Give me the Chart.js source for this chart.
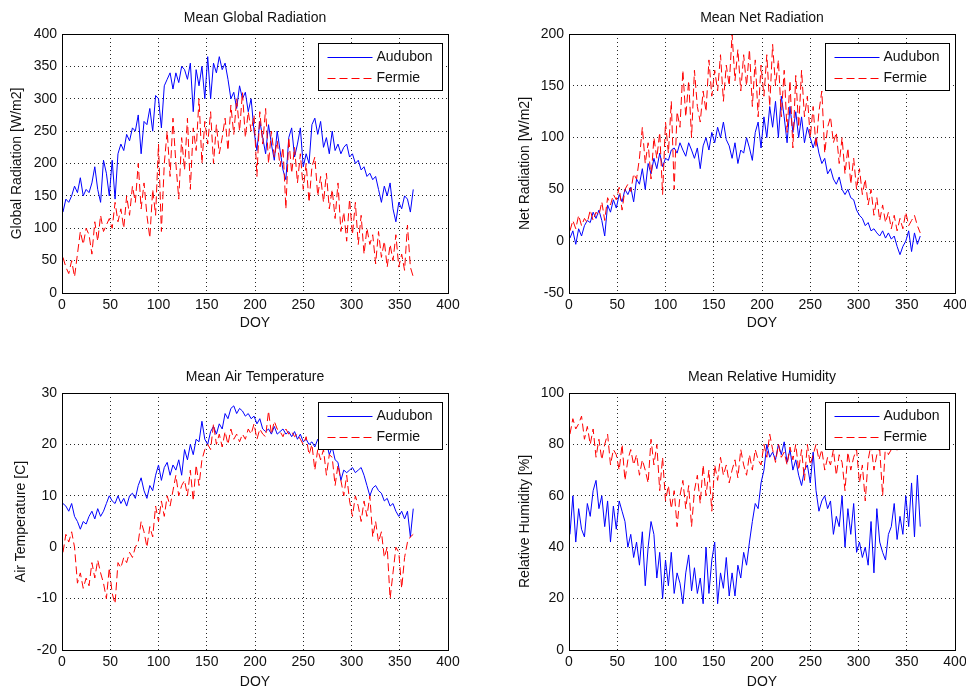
<!DOCTYPE html>
<html>
<head>
<meta charset="utf-8">
<script src="https://cdn.jsdelivr.net/npm/chart.js@4.4.1/dist/chart.umd.min.js"></script>
<style>
  html, body { margin: 0; padding: 0; background: #fff; overflow: hidden; }
  #wrap { position: relative; width: 966px; height: 688px; overflow: hidden; background: #fff; }
  #wrap canvas { position: absolute; }
</style>
</head>
<body>
<div id="wrap">
  <canvas id="c1" width="483" height="344" style="left:0;top:0"></canvas>
  <canvas id="c2" width="500" height="344" style="left:483px;top:0"></canvas>
  <canvas id="c3" width="483" height="360" style="left:0;top:344px"></canvas>
  <canvas id="c4" width="500" height="360" style="left:483px;top:344px"></canvas>
</div>
<script>
// day of year, sampled every third day
const DOY = [];
for (let d = 1; d <= 365; d += 3) DOY.push(d);

const xTicks = [0, 50, 100, 150, 200, 250, 300, 350, 400];
const globalTicks = [0, 50, 100, 150, 200, 250, 300, 350, 400];
const netTicks = [-50, 0, 50, 100, 150, 200];
const tempTicks = [-20, -10, 0, 10, 20, 30];
const humTicks = [0, 20, 40, 60, 80, 100];

const globalAudubon = [
  125, 145, 140, 150, 165, 155, 178, 150, 160, 155,
  170, 195, 160, 140, 205, 185, 150, 205, 145, 215,
  230, 220, 245, 235, 255, 250, 275, 215, 265, 260,
  285, 250, 305, 300, 255, 320, 330, 340, 315, 340,
  325, 350, 345, 330, 355, 280, 345, 320, 350, 300,
  365, 300, 355, 340, 365, 345, 355, 330, 300, 310,
  285, 320, 300, 310, 280, 300, 250, 220, 265, 240,
  215, 260, 230, 205, 250, 220, 190, 175, 240, 255,
  210, 230, 255, 195, 215, 200, 260, 270, 245, 265,
  225, 240, 215, 250, 220, 230, 215, 225, 230, 210,
  215, 200, 205, 190, 195, 180, 185, 175, 180, 160,
  140, 165, 150, 170, 130, 110, 140, 130, 150, 145,
  125, 160
];
const globalFermie = [
  55, 40, 30, 50, 25, 60, 95, 75, 100, 90,
  60, 110, 80, 120, 95, 105, 115, 100, 140, 110,
  130, 100, 150, 120, 165, 140, 200, 130, 170, 120,
  85, 160, 120, 230, 95, 200, 250, 180, 270, 200,
  145, 240, 190, 270, 160, 255, 220, 300, 200, 265,
  230, 280, 200, 260, 215, 240, 270, 220, 290, 245,
  300, 250, 310, 240, 280, 250, 275, 180, 280, 230,
  285, 200, 250, 210, 235, 195, 225, 130, 240, 185,
  225, 170, 215, 160, 200, 140, 195, 210, 150, 180,
  140, 185, 130, 160, 115, 170, 95, 125, 80, 145,
  90, 140, 75, 120, 60, 100, 75, 90, 45, 95,
  55, 80, 40, 75, 50, 90, 40, 60, 35, 105,
  40, 25
];

const netAudubon = [
  3, 10, -3, 12, 5, 15, 20, 18, 28, 22,
  30, 20, 5, 35, 28, 40, 32, 45, 38, 50,
  45, 52, 38, 60, 55, 70, 50, 75, 65, 80,
  70, 85, 72, 80, 78, 88, 90, 85, 95, 88,
  82, 95, 88, 80, 90, 70, 92, 100, 88, 105,
  95, 110, 100, 115, 98, 92, 80, 95, 75, 88,
  85, 100, 90, 78, 105, 115, 90, 120, 100, 130,
  110, 135, 100, 140, 120, 95, 130, 105, 125, 100,
  120, 95, 110, 100, 90, 100, 85, 75, 80, 65,
  70, 60, 55, 62, 50, 45, 50, 42, 40, 30,
  25, 22, 15, 18, 10, 12, 8, 5, 10, 3,
  8, 2, 5, -5, -13, -5, 0, 10, -10, 8,
  -3, 5
];
const netFermie = [
  10, 20, 12, 25, 15, 22, 18, 30, 20, 28,
  25, 38, 20, 42, 35, 45, 40, 52, 30, 50,
  55, 48, 65, 60, 80, 110, 75, 95, 60, 100,
  80, 105, 45, 115, 85, 135, 50, 125, 110, 165,
  120, 155, 100, 165, 130, 115, 145, 125, 175, 140,
  165, 145, 180, 135, 170, 150, 200, 155, 185, 145,
  180, 150, 185, 130, 175, 120, 170, 140, 180, 130,
  190, 150, 175, 120, 165, 105, 155, 90, 160, 110,
  165, 120, 140, 100, 130, 90, 125, 145, 85, 110,
  120, 95, 105, 75, 100, 65, 90, 55, 80, 50,
  70, 45, 60, 35, 50, 25, 42, 20, 35, 18,
  28, 12, 25, 10, 22, 12, 28, 15, 20, 25,
  15, 8
];

const tempAudubon = [
  8.5, 8, 7, 8.5, 6, 5, 3.5, 5, 4.5, 6,
  7, 5.5, 7.5, 6, 7, 8.5, 10, 9, 8.5, 10,
  8.5, 9.5, 8, 10, 10.5, 9.5, 12, 13.5, 11, 9.5,
  12, 11, 14, 16, 13, 15.5, 16.5, 14, 16, 15,
  17, 14, 19, 17, 20, 18, 21, 20.5, 24.5, 21,
  20, 22.5, 23.5, 22, 24, 23, 26, 25, 27, 27.5,
  26, 27, 26.5, 25.5, 26, 25, 25.5, 24, 25, 23,
  22.5, 23, 22, 23.5, 22, 22.5, 23, 22, 22.5, 21.5,
  22.5, 21, 22, 20.5, 21, 20, 20.5, 19.5, 21, 20,
  19, 20.5, 18, 19.5, 17, 16.5, 13, 15, 14.5, 15,
  15.5, 14.5, 15, 15.5, 14, 12, 10, 11.5, 12, 11,
  10.5, 9, 9.5, 8, 8.5, 7, 6, 7, 5.5, 7,
  2, 7.5
];
const tempFermie = [
  -1, 2.5, 1, 3, 0, -7, -5, -8, -6, -7.5,
  -3, -6, -2.5, -5, -7, -10, -4, -9, -11, -3,
  -4, -2, -3, -1, -2, 0, 1, 5, 3, 0,
  4, 2, 8, 5, 9, 6, 10, 8, 11, 14,
  10, 12, 13, 10, 15, 9, 16, 12, 17, 19,
  20, 19, 24, 20, 22, 19.5, 22.5, 20, 23, 21,
  22, 20.5, 22, 21, 23, 22, 24, 21, 23, 22,
  21.5, 26.5, 22, 24.5, 23, 22.5, 21.5, 23, 22, 22.5,
  21.5, 22, 21, 20, 21.5, 18, 20, 15, 19, 17,
  19, 14, 18, 17.5, 12, 16, 13, 10, 14, 9,
  6, 10, 8, 5, 9, 6, 10, 2, 5, 1,
  3, -2, 0, -10, -5, 0, -1, -8, -2, 1,
  2, 2.5
];

const humAudubon = [
  45, 60, 42, 55, 47, 44, 57, 52, 62, 66,
  55, 60, 48, 58, 42, 56, 47, 58, 54, 50,
  40, 45, 36, 42, 33, 46, 25, 40, 50, 45,
  28, 38, 20, 35, 25, 38, 22, 30, 26, 18,
  30, 37, 23, 32, 22, 28, 18, 40, 22, 35,
  42, 18, 30, 24, 36, 21, 30, 21, 33, 28,
  38, 33, 42, 50, 57, 55, 65, 70, 80, 75,
  77, 74, 80, 76, 81, 73, 78, 70, 74, 68,
  64, 70, 72, 65, 77, 62, 54, 58, 60, 55,
  58, 45, 52, 48, 60, 40, 55, 45, 57, 38,
  42, 36, 40, 33, 50, 30, 55, 42, 38, 35,
  45, 48, 57, 43, 52, 45, 60, 48, 65, 44,
  68, 48
];
const humFermie = [
  84, 90, 86, 88, 91, 82, 87, 80, 86, 75,
  82, 74, 80, 84, 72, 78, 76, 70, 80, 66,
  74, 78, 72, 76, 68, 74, 70, 65, 82, 72,
  80, 62, 75, 58, 64, 55, 62, 48, 60, 66,
  55, 64, 48, 62, 68, 57, 72, 60, 70, 54,
  72, 66, 75, 68, 72, 65, 70, 74, 67, 78,
  72, 68, 76, 70, 78, 74, 72, 80, 75, 84,
  78, 73, 80, 75, 77, 72, 79, 74, 80, 70,
  78, 66, 80, 72, 76, 80, 74, 78, 70, 75,
  72, 78, 68, 76, 73, 62, 77, 70, 75, 78,
  65, 72, 58, 74, 80, 70, 76, 78, 60, 80,
  76, 78, 80, 77, 84, 86, 82, 88, 85, 87,
  84, 86
];

const FONT = '"Liberation Sans", Arial, Helvetica, sans-serif';
Chart.defaults.font.family = FONT;
Chart.defaults.font.size = 14;
Chart.defaults.color = '#111';

const toPoints = arr => arr.map((v, i) => ({ x: DOY[i], y: v }));

// axes box + opaque legend drawn over the lines, like the MATLAB figure
const boxLegend = {
  id: 'boxLegend',
  afterDatasetsDraw(chart) {
    const { ctx, chartArea: a } = chart;
    ctx.save();
    ctx.setLineDash([]);
    ctx.lineDashOffset = 0;
    ctx.strokeStyle = '#000';
    ctx.lineWidth = 1;
    const L = Math.round(a.left) + 0.5, T = Math.round(a.top) + 0.5;
    const R = Math.round(a.right) + 0.5, B = Math.round(a.bottom) + 0.5;
    ctx.strokeRect(L, T, R - L, B - T);

    const w = 124, h = 47;
    const x0 = Math.round(a.right - 6 - w) + 0.5;
    const y0 = Math.round(a.top + 9) + 0.5;
    ctx.fillStyle = '#fff';
    ctx.fillRect(x0, y0, w, h);
    ctx.strokeRect(x0, y0, w, h);
    ctx.font = '14px ' + FONT;
    ctx.textBaseline = 'middle';
    ctx.textAlign = 'left';
    chart.data.datasets.forEach((ds, i) => {
      const y = Math.round(y0 + 13 + i * 21.5) + 0.5;
      ctx.strokeStyle = ds.borderColor;
      ctx.setLineDash(ds.borderDash || []);
      ctx.lineDashOffset = 0;
      ctx.beginPath();
      ctx.moveTo(x0 + 9, y);
      ctx.lineTo(x0 + 54, y);
      ctx.stroke();
      ctx.fillStyle = '#111';
      ctx.fillText(ds.label, x0 + 58, y);
    });
    ctx.restore();
  }
};

function makePanel(p) {
  const gridOpts = { color: 'rgba(0,0,0,0.85)', lineWidth: 1, drawTicks: false };
  const borderOpts = { display: false, dash: [1, 3] };
  new Chart(document.getElementById(p.id), {
    type: 'line',
    data: {
      datasets: [{
        label: 'Audubon',
        data: toPoints(p.aud),
        borderColor: '#0000ff',
        borderWidth: 1,
        pointRadius: 0,
        tension: 0,
        order: 1,
        xAxisID: 'x', yAxisID: 'y'
      }, {
        label: 'Fermie',
        data: toPoints(p.fer),
        borderColor: '#ff0000',
        borderWidth: 1,
        borderDash: [8, 4],
        pointRadius: 0,
        tension: 0,
        order: 0,
        xAxisID: 'x', yAxisID: 'y'
      }]
    },
    options: {
      responsive: false,
      animation: false,
      events: [],
      layout: { padding: { left: 0, right: p.right, top: 0, bottom: 0 } },
      plugins: { legend: { display: false }, tooltip: { enabled: false } },
      scales: {
        x: {
          type: 'linear', min: 0, max: 400,
          afterBuildTicks: s => { s.ticks = xTicks.map(v => ({ value: v })); },
          ticks: { padding: 4, color: '#111' },
          grid: gridOpts,
          border: borderOpts,
          title: { display: true, text: 'DOY', color: '#111', padding: { top: 0, bottom: p.doyPad } },
          afterFit: s => { s.height = p.xH; }
        },
        top: {
          type: 'linear', position: 'top', min: 0, max: 400,
          ticks: { display: false },
          grid: { display: false, drawTicks: false },
          border: { display: false },
          title: { display: true, text: p.title, color: '#111', padding: { top: p.titlePad, bottom: 0 } },
          afterFit: s => { s.height = p.top; }
        },
        y: {
          type: 'linear', min: p.yTicks[0], max: p.yTicks[p.yTicks.length - 1],
          afterBuildTicks: s => { s.ticks = p.yTicks.map(v => ({ value: v })); },
          ticks: { padding: 5, color: '#111' },
          grid: gridOpts,
          border: borderOpts,
          title: { display: true, text: p.ylabel, color: '#111', padding: { top: p.yTitlePad, bottom: 0 } },
          afterFit: s => { s.width = p.yW; }
        }
      }
    },
    plugins: [boxLegend]
  });
}

makePanel({ id: 'c1', title: 'Mean Global Radiation', ylabel: 'Global Radiation [W/m2]',
  aud: globalAudubon, fer: globalFermie, yTicks: globalTicks,
  yW: 62, yTitlePad: 8.6, top: 34, titlePad: 9.6, xH: 51, doyPad: 12, right: 35 });
makePanel({ id: 'c2', title: 'Mean Net Radiation', ylabel: 'Net Radiation [W/m2]',
  aud: netAudubon, fer: netFermie, yTicks: netTicks,
  yW: 86, yTitlePad: 33.6, top: 34, titlePad: 9.6, xH: 51, doyPad: 12, right: 28 });
makePanel({ id: 'c3', title: 'Mean Air Temperature', ylabel: 'Air Temperature [C]',
  aud: tempAudubon, fer: tempFermie, yTicks: tempTicks,
  yW: 62, yTitlePad: 12.6, top: 49, titlePad: 24.6, xH: 54, doyPad: 13.6, right: 35 });
makePanel({ id: 'c4', title: 'Mean Relative Humidity', ylabel: 'Relative Humidity [%]',
  aud: humAudubon, fer: humFermie, yTicks: humTicks,
  yW: 86, yTitlePad: 33.6, top: 49, titlePad: 24.6, xH: 54, doyPad: 13.6, right: 28 });
</script>
</body>
</html>
